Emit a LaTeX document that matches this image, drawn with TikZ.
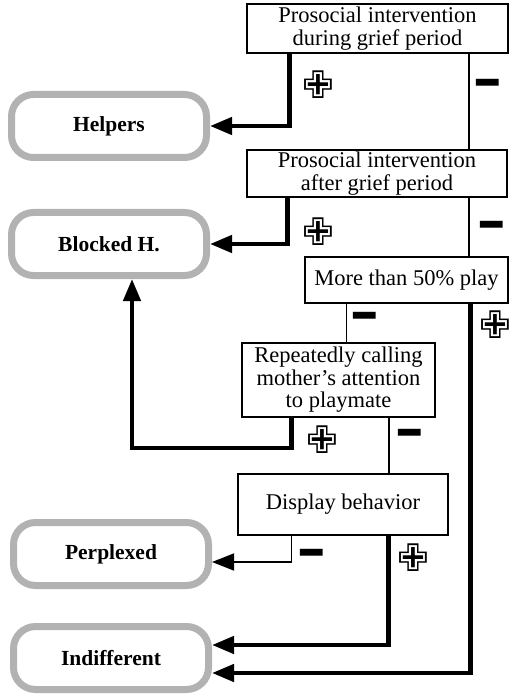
\documentclass[tikz,border=0pt]{standalone}
\usepackage{fontspec}
\setmainfont{Liberation Serif}
\newfontfamily\signfont{DejaVu Sans}
\usetikzlibrary{arrows.meta}
\tikzset{
  box/.style={draw, line width=1.4pt, rectangle, inner sep=0pt, align=center,
    font=\fontsize{22.5}{22.5}\selectfont},
  pill/.style={draw=gray!60, line width=7pt, rounded corners=22pt, minimum width=195pt,
    minimum height=63pt, inner sep=0pt, font=\bfseries\fontsize{21.5}{21.5}\selectfont},
  thinline/.style={line width=1.6pt},
  heavyline/.style={line width=4.5pt},
  tip/.style={-{Triangle[length=22pt,width=17pt]}},
  plussign/.style={inner sep=0pt, font=\signfont\fontsize{38}{38}\selectfont},
  minussign/.style={inner sep=0pt, font=\signfont\bfseries\fontsize{26}{26}\selectfont}
}
\newcommand\minusglyph{\scalebox{1.4}[2.3]{−}}
\begin{document}
\begin{tikzpicture}[x=1pt,y=-1pt]
\useasboundingbox (0,0) rectangle (511,700);
% boxes
\node[box, minimum width=261pt, minimum height=49pt] (b1) at (377.5,28.5) {Prosocial intervention\\during grief period};
\node[box, minimum width=260pt, minimum height=47pt] (b2) at (377,173.5) {Prosocial intervention\\after grief period};
\node[box, minimum width=203pt, minimum height=46pt] (b3) at (406.5,280) {More than 50\% play};
\node[box, minimum width=193pt, minimum height=74pt] (b4) at (338.5,380) {Repeatedly calling\\mother's attention\\to playmate};
\node[box, minimum width=210pt, minimum height=61pt] (b5) at (343,504.5) {Display behavior};
% outcomes
\node[pill] (helpers) at (109,126) {Helpers};
\node[pill] (blocked) at (109,244) {Blocked H.};
\node[pill] (perp) at (111,554) {Perplexed};
\node[pill] (indiff) at (111,658) {Indifferent};
% leg coordinates
\coordinate (l1) at ([xshift=43pt]b1.south west);
\coordinate (r1) at ([xshift=-40pt]b1.south east);
\coordinate (l2) at ([xshift=41pt]b2.south west);
\coordinate (r2) at ([xshift=-39pt]b2.south east);
\coordinate (l3) at ([xshift=42pt]b3.south west);
\coordinate (r3) at ([xshift=-38pt]b3.south east);
\coordinate (l4) at ([xshift=50pt]b4.south west);
\coordinate (r4) at ([xshift=-47pt]b4.south east);
\coordinate (l5) at ([xshift=54pt]b5.south west);
\coordinate (r5) at ([xshift=-60pt]b5.south east);
\coordinate (k4) at (132,448);
% connectors
\draw[heavyline, tip] (l1) |- (helpers);
\draw[thinline] (r1) -- (r1 |- b2.north);
\draw[heavyline, tip] (l2) |- (blocked);
\draw[thinline] (r2) -- (r2 |- b3.north);
\draw[thinline] (l3) -- (l3 |- b4.north);
\draw[heavyline, tip] (r3) |- ([yshift=-15pt]indiff.east);
\draw[heavyline, tip] (l4) |- (k4) -- (k4 |- blocked.south);
\draw[thinline] (r4) -- (r4 |- b5.north);
\draw[thinline, tip] (l5) |- ([yshift=-8pt]perp.east);
\draw[heavyline, tip] (r5) |- ([yshift=13pt]indiff.east);
% signs
\node[plussign] (p1) at (318,85) {✙};
\node[minussign] (m1) at (488,90) {\minusglyph};
\node[plussign] (p2) at (318,232) {✙};
\node[minussign] (m2) at (492,232) {\minusglyph};
\node[minussign] (m3) at (365,323) {\minusglyph};
\node[plussign] (p3) at (495,325) {✙};
\node[plussign] (p4) at (322,440) {✙};
\node[minussign] (m4) at (410,440) {\minusglyph};
\node[minussign] (m5) at (312,560) {\minusglyph};
\node[plussign] (p5) at (413,558) {✙};
\end{tikzpicture}
\end{document}
